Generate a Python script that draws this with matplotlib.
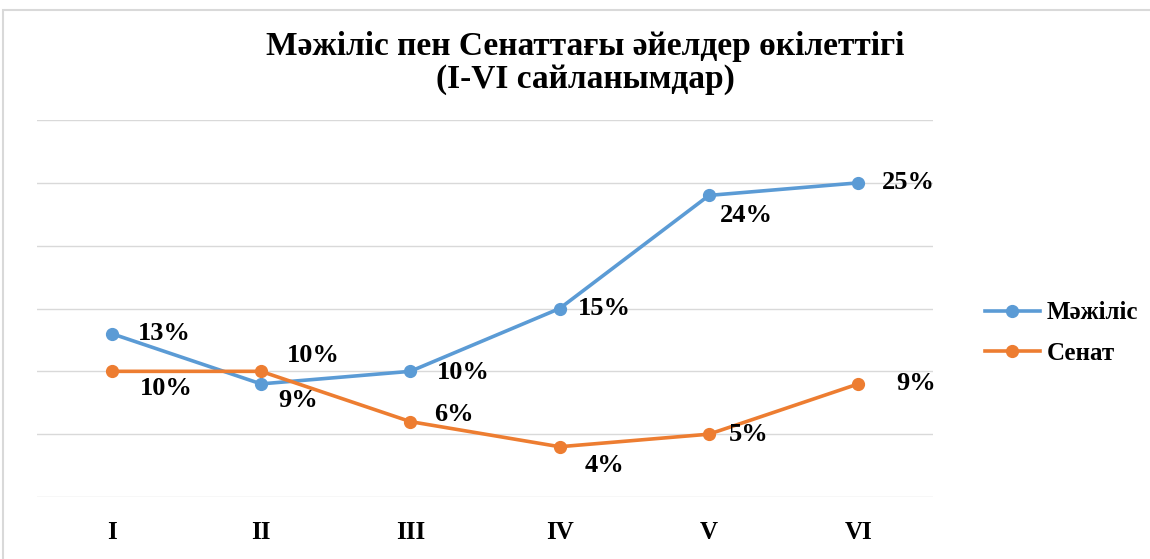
import matplotlib.pyplot as plt
from matplotlib.patches import Rectangle

# data
rounds = ['I', 'II', 'III', 'IV', 'V', 'VI']
mazhilis = [13, 9, 10, 15, 24, 25]
senat = [10, 10, 6, 4, 5, 9]

# label offsets in pixels (dx, dy)
maz_off = [(53, 0), (37, -17), (53, -1), (45, 0), (37, -20), (50, 0)]
sen_off = [(55, -17), (52, 16), (44, 7), (45, -19), (40, 0), (58, 0)]

plt.rcParams['font.family'] = ['Liberation Serif', 'DejaVu Serif']

fig = plt.figure(figsize=(11.5, 5.59), dpi=100)
fig.patches.append(Rectangle((3/1150, -0.05), 1.1, 1 - 10/559 + 0.05, transform=fig.transFigure,
                             fill=False, edgecolor='#d9d9d9', linewidth=1.5))
ax = fig.add_axes([37/1150, 1 - 497/559, 896/1150, 377/559])

x = list(range(len(rounds)))
blue = '#5b9bd5'
orange = '#ed7d31'
ax.plot(x, mazhilis, color=blue, lw=2.6, marker='o', ms=8.5, label='Мәжіліс', zorder=3)
ax.plot(x, senat, color=orange, lw=2.6, marker='o', ms=8.5, label='Сенат', zorder=3)

for xi, v, (dx, dy) in zip(x, mazhilis, maz_off):
    ax.annotate(f'{v}%', (xi, v), xytext=(dx, dy), textcoords='offset pixels',
                ha='center', va='center', fontsize=19, fontweight='bold')
for xi, v, (dx, dy) in zip(x, senat, sen_off):
    ax.annotate(f'{v}%', (xi, v), xytext=(dx, dy), textcoords='offset pixels',
                ha='center', va='center', fontsize=19, fontweight='bold')

ax.set_xlim(-0.5, 5.5)
ax.set_ylim(0, 30)
ax.set_yticks(range(0, 31, 5))
ax.set_yticklabels([])
ax.set_xticks(x)
ax.set_xticklabels(rounds, fontsize=18, fontweight='bold')
ax.tick_params(axis='both', length=0)
ax.tick_params(axis='x', pad=17)
ax.grid(axis='y', color='#d9d9d9', lw=1)
ax.set_axisbelow(True)
for s in ax.spines.values():
    s.set_visible(False)

fig.text(585/1150, 1 - 63/559, 'Мәжіліс пен Сенаттағы әйелдер өкілеттігі\n(I-VI сайланымдар)',
         ha='center', va='center', fontsize=24, fontweight='bold', linespacing=1.1)

fig.legend(loc='center left', bbox_to_anchor=(962/1150, 1 - 333/559), frameon=False,
           prop={'size': 18, 'weight': 'bold'}, handlelength=2.2, handletextpad=0.3,
           labelspacing=0.7)

fig.savefig('out.png', dpi=100)
